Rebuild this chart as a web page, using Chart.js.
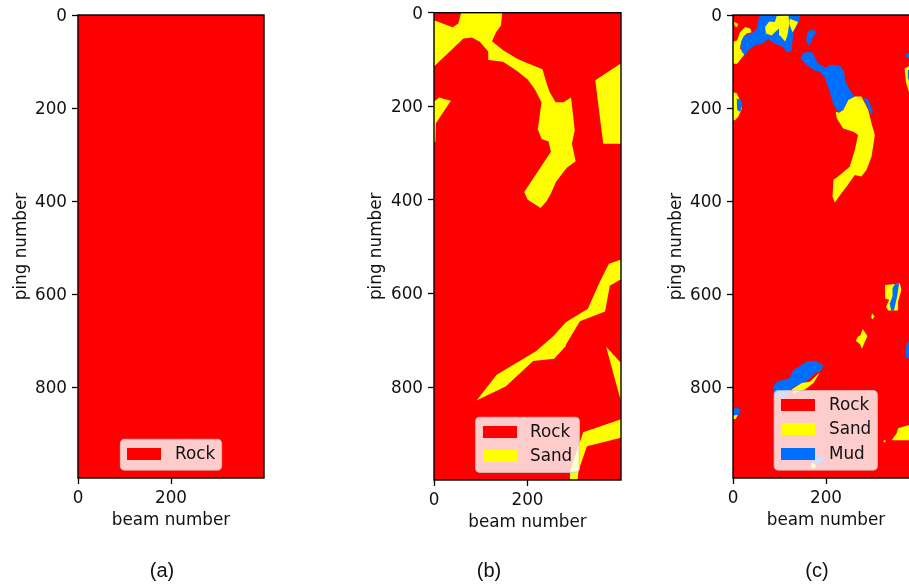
<!DOCTYPE html>
<html><head><meta charset="utf-8">
<script src="https://cdn.jsdelivr.net/npm/chart.js@4"></script>
<style>
html,body{margin:0;padding:0;background:#fff;width:909px;height:584px;overflow:hidden;position:relative}
canvas{position:absolute;top:0}
.cap{position:absolute;font:20px "Liberation Sans",Arial,sans-serif;color:#111;transform:translate(-50%,-50%)}
</style></head><body>
<canvas id="a" width="300" height="584" style="left:0;width:300px;height:584px"></canvas>
<canvas id="b" width="330" height="584" style="left:330px;width:330px;height:584px"></canvas>
<canvas id="c" width="260" height="584" style="left:660px;width:260px;height:584px"></canvas>
<script>
// ---- tick labels, captions, classes ----
const xTicks=[0,200];
const yTicks=[0,200,400,600,800];
const captions=['(a)','(b)','(c)'];
const classNames=['Rock','Sand','Mud'];
const classColors=['#ff0000','#ffff00','#006eff'];

// ---- outlines, [beam, ping] ----
const rockA=[[0,0],[400,0],[400,1000],[0,1000]];

const bSand1=[[0,16],[40,31],[52,23],[58,0],[146,0],[143,28],[133,41],[124,61],[148,80],[177,98],[195,106],[232,121],[241,151],[247,169],[260,191],[277,191],[293,181],[297,215],[301,251],[295,280],[303,317],[284,331],[261,361],[250,386],[241,402],[228,417],[200,399],[193,383],[250,297],[245,275],[230,270],[222,249],[230,192],[216,164],[200,142],[177,124],[148,105],[117,101],[116,83],[98,62],[81,53],[63,55],[41,76],[0,115]];
const bSand2=[[0,190],[11,181],[36,188],[4,236],[3,276],[0,276]];
const bSand3=[[345,144],[400,108],[400,280],[362,280],[352,201]];
const bSand4=[[91,828],[134,773],[218,723],[255,691],[282,661],[329,632],[355,574],[374,536],[400,527],[400,569],[376,583],[366,638],[312,659],[282,709],[282,712],[257,739],[212,744],[154,798]];
const bSand5=[[368,713],[400,748],[400,830],[391,798]];
const bSand6=[[400,868],[400,908],[327,926],[309,979],[307,1000],[291,1000],[291,979],[319,896]];

const cSand1=[[0,58],[9,54],[15,37],[26,26],[37,29],[40,37],[29,40],[19,54],[15,72],[26,83],[9,105],[0,105]];
const cMud1=[[57,0],[145,0],[140,19],[130,37],[127,65],[126,78],[115,79],[108,69],[90,62],[76,52],[62,62],[47,65],[33,76],[26,87],[19,79],[16,65],[19,54],[24,44],[33,42],[40,40],[51,29],[54,15]];
const cSand2=[[94,2],[119,0],[121,19],[117,44],[112,57],[101,44],[99,29],[90,37],[83,44],[71,40],[69,26],[78,14],[90,15]];
const cSand3=[[122,8],[140,15],[133,29],[128,37],[121,19]];
const cSand4=[[2,15],[11,19],[9,26],[4,24]];
const cMud2=[[160,37],[169,31],[181,36],[173,45],[169,58],[162,65],[157,54]];
const cMud3=[[145,93],[151,81],[169,79],[176,91],[183,104],[198,113],[212,107],[230,109],[239,122],[241,140],[251,161],[262,175],[248,182],[237,204],[226,208],[216,193],[208,165],[198,136],[187,122],[173,118],[158,107]];
const cSand5=[[237,204],[248,182],[262,175],[276,175],[291,204],[298,233],[305,258],[298,304],[287,333],[276,347],[262,344],[244,369],[233,383],[219,403],[214,390],[216,354],[226,347],[251,326],[262,290],[269,258],[259,251],[237,244],[223,222],[221,208],[228,210]];
const cMud4=[[280,178],[291,181],[301,208],[298,215],[291,201]];
const cSand6=[[0,166],[8,168],[15,183],[19,201],[11,219],[4,226],[0,226]];
const cMud5=[[8,179],[17,183],[21,193],[15,208],[9,204]];
const cSand7=[[369,115],[378,110],[395,115],[395,160],[378,165],[372,145]];
const cMud6=[[376,118],[395,118],[395,150],[382,150],[376,135]];
const cMud7=[[372,82],[385,82],[385,92],[372,92]];
const cSand8=[[327,580],[359,577],[362,591],[355,616],[355,635],[334,635],[329,627],[336,612],[327,609]];
const cMud8=[[348,578],[357,578],[353,605],[346,635],[340,635],[337,620],[343,605],[343,587]];
const cSand9=[[299,641],[304,648],[300,654],[297,650]];
const cSand10=[[279,675],[289,690],[282,706],[277,717],[273,707],[264,700],[269,691],[274,688]];
const cMud9=[[375,702],[400,702],[400,745],[372,735],[372,715]];
const cMud10=[[88,813],[87,798],[94,788],[122,780],[130,763],[158,745],[176,743],[194,752],[190,764],[176,770],[158,788],[130,800],[119,813],[112,823],[97,823]];
const cSand11=[[126,805],[148,791],[165,788],[187,768],[173,791],[155,805],[130,813]];
const cMud11=[[0,847],[10,843],[16,850],[11,863],[0,863]];
const cSand12=[[0,861],[10,859],[6,868],[0,868]];
const cMud12=[[173,950],[194,948],[196,956],[180,966],[171,966]];
const cSand13=[[168,963],[178,966],[176,974],[169,974]];
const cSand14=[[341,914],[352,899],[355,888],[378,881],[400,881],[400,914]];
const cSand15=[[324,914],[328,914],[328,918],[324,918]];

// layers: [class index, outline], painted in this order
const layersA=[[0,rockA]];
const layersB=[[0,rockA],[1,bSand1],[1,bSand2],[1,bSand3],[1,bSand4],[1,bSand5],[1,bSand6]];
const layersC=[[0,rockA],[1,cSand1],[2,cMud1],[1,cSand2],[1,cSand3],[1,cSand4],[2,cMud2],[1,cSand5],[2,cMud3],[2,cMud4],[1,cSand6],[2,cMud5],[1,cSand7],[2,cMud6],[2,cMud7],[1,cSand8],[2,cMud8],[1,cSand9],[1,cSand10],[2,cMud9],[2,cMud10],[1,cSand11],[2,cMud11],[1,cSand12],[2,cMud12],[1,cSand13],[1,cSand14],[1,cSand15]];

Chart.defaults.font.family='"DejaVu Sans"';
Chart.defaults.font.size=16.8;
Chart.defaults.color='#111';

const framePlugin={id:'frame',afterDatasetsDraw(chart){
  const {ctx,chartArea:a}=chart;
  ctx.save();ctx.strokeStyle='#000';ctx.lineWidth=1.4;
  ctx.strokeRect(a.left,a.top,a.right-a.left,a.bottom-a.top);
  ctx.restore();
  const o=chart.options.plugins.boxLegend, off=o.canvasLeft;
  ctx.save();
  ctx.beginPath();ctx.roundRect(o.box[0]-off,o.box[1],o.box[2],o.box[3],4);
  ctx.fillStyle='rgba(255,255,255,0.8)';ctx.fill();
  ctx.lineWidth=1.3;ctx.strokeStyle='rgba(204,204,204,0.8)';ctx.stroke();
  o.rows.forEach((y,i)=>{
    ctx.fillStyle=classColors[i];
    ctx.fillRect(o.patchX-off,y,34,12);
    ctx.fillStyle='#111';ctx.font='16.8px "DejaVu Sans"';ctx.textBaseline='middle';ctx.textAlign='left';
    ctx.fillText(classNames[i],o.textX-off,y+7);
  });
  ctx.restore();
}};

function panel(id,layers,cfg){
  const datasets=layers.slice().reverse().map(([k,pts])=>({
    label:classNames[k],
    data:pts.map(([x,y])=>({x,y})),
    showLine:true,fill:'shape',
    backgroundColor:classColors[k],borderColor:classColors[k],borderWidth:0,
    pointRadius:0,pointHoverRadius:0,tension:0
  }));
  const setTicks=list=>s=>{s.ticks=list.map(v=>({value:v}));};
  const grid={display:true,drawOnChartArea:false,drawTicks:true,tickLength:6,tickColor:'#000',tickWidth:1.3};
  new Chart(document.getElementById(id),{
    type:'scatter',data:{datasets},plugins:[framePlugin],
    options:{
      responsive:false,animation:false,events:[],
      layout:{padding:{left:cfg.padL,right:cfg.padR,top:cfg.top,bottom:584-cfg.bottom-53}},
      plugins:{legend:{display:false},tooltip:{enabled:false},
        boxLegend:{canvasLeft:cfg.left,box:cfg.box,rows:cfg.rows,patchX:cfg.patchX,textX:cfg.textX}},
      scales:{
        x:{type:'linear',min:0,max:400,grid,border:{display:false},
          afterBuildTicks:setTicks(xTicks),
          ticks:{maxRotation:0,autoSkip:false,padding:5},
          title:{display:true,text:'beam number',padding:0},
          afterFit(s){s.height=53;s.paddingLeft=s.paddingRight=s.paddingTop=s.paddingBottom=0;}},
        y:{type:'linear',min:0,max:cfg.yMax,reverse:true,grid,border:{display:false},
          afterBuildTicks:setTicks(yTicks),
          ticks:{autoSkip:false,padding:5,labelOffset:1.5},
          title:{display:true,text:'ping number',padding:0},
          afterFit(s){s.width=cfg.yW;s.paddingLeft=s.paddingRight=s.paddingTop=s.paddingBottom=0;}}
      }
    }
  });
}
panel('a',layersA,{left:0,padL:12,padR:36,yW:66,top:15,bottom:478,yMax:995,
  box:[120.5,439.5,101,30.5],rows:[448],patchX:127,textX:175});
panel('b',layersB,{left:330,padL:37,padR:39,yW:67,top:12.7,bottom:480,yMax:998,
  box:[475.7,417.3,103.6,55],rows:[426,450],patchX:483,textX:530});
panel('c',layersC,{left:660,padL:7,padR:1,yW:66,top:15,bottom:478,yMax:995,
  box:[774.3,390.7,103,79.3],rows:[399,423,448],patchX:781,textX:829});

[162,489,817].forEach((x,i)=>{
  const d=document.createElement('div');d.className='cap';d.textContent=captions[i];
  d.style.left=x+'px';d.style.top='570px';document.body.appendChild(d);
});
</script>
</body></html>
